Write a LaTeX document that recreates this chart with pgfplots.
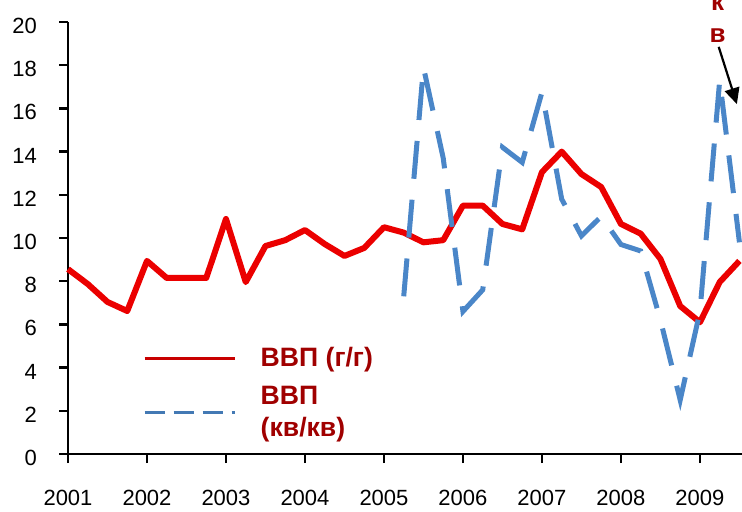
\documentclass[border=0pt]{standalone}
\usepackage{fontspec}
\setmainfont{Liberation Sans}
\usepackage{pgfplots}
\pgfplotsset{compat=1.18}
\usetikzlibrary{arrows.meta}
\definecolor{gdpred}{RGB}{235,0,0}
\definecolor{gdpblue}{RGB}{74,134,200}
\definecolor{txtred}{RGB}{160,0,0}
\begin{document}
\begin{tikzpicture}
\begin{axis}[
  scale only axis, width=337pt, height=216pt,
  xmin=0, xmax=34.13, ymin=0, ymax=20,
  axis lines=left,
  axis line style={-, line width=1.2pt, black},
  xtick={0,4,8,12,16,20,24,28,32},
  xticklabels={2001,2002,2003,2004,2005,2006,2007,2008,2009},
  ytick={0,2,4,6,8,10,12,14,16,18,20},
  tick align=outside, major tick length=4.5pt,
  tick style={line width=1.2pt, black},
  tick label style={font=\fontsize{11}{13}\selectfont},
  /pgf/number format/assume math mode=true,
  yticklabel style={xshift=-7.5pt, yshift=-2pt},
  xticklabel style={yshift=-10pt},
  clip=false,
  legend style={at={(axis cs:3.8,4.95)}, anchor=north west, draw=none, fill=none,
    inner sep=0pt, font=\bfseries\fontsize{13.3}{16}\selectfont, text=txtred,
    cells={anchor=west, align=left}, nodes={inner sep=0pt}, row sep=8pt},
  legend cell align=left,
]
\addplot[gdpred, line width=3pt, line join=round,
  legend image code/.code={\draw[gdpred!85!black, line width=1.3pt] (0pt,0pt) -- (45pt,0pt); \path (56.5pt,0pt);}] coordinates {
(0,8.56) (1,7.87) (2,7.04) (3,6.62) (4,8.94) (5,8.15) (6,8.15) (7,8.15)
(8,10.88) (9,7.96) (10,9.63) (11,9.9) (12,10.37) (13,9.72) (14,9.17) (15,9.54)
(16,10.5) (17,10.25) (18,9.8) (19,9.9) (20,11.5) (21,11.5) (22,10.65) (23,10.4)
(24,13.05) (25,14.0) (26,12.96) (27,12.36) (28,10.65) (29,10.2) (30,9.03) (31,6.85)
(32,6.1) (33,7.96) (34,8.94)
};
\addlegendentry{ВВП (г/г)}
\addplot[gdpblue, line width=2.5pt, dash pattern=on 19pt off 10.5pt,
  legend image code/.code={\draw[gdpblue!90!black, line width=1.3pt, dash pattern=on 10pt off 4.5pt] (0pt,0pt) -- (45pt,0pt); \path (56.5pt,0pt);}] coordinates {
(17,7.3) (18,17.9) (19,13.7) (20,6.6) (21,7.6) (22,14.2) (23,13.5)
(24,16.75) (25,11.8) (26,10.1) (27,11.0) (28,9.7) (29,9.4) (30,6.2) (31,2.5)
(32,6.6) (33,17.3) (34,9.8)
};
\addlegendentry{ВВП\\(кв/кв)}
\node[text=txtred, font=\bfseries\fontsize{13}{15}\selectfont] at (axis cs:32.9,20.85) {к};
\node[text=txtred, font=\bfseries\fontsize{13}{15}\selectfont] at (axis cs:32.9,19.35) {в};
\draw[line width=1.1pt, -{Triangle[length=8pt, width=7.5pt]}] (axis cs:32.95,18.85) -- (axis cs:33.87,16.2);
\end{axis}
\pgfresetboundingbox
\useasboundingbox (-34pt,-28.5pt) rectangle (337pt,227pt);
\end{tikzpicture}
\end{document}
